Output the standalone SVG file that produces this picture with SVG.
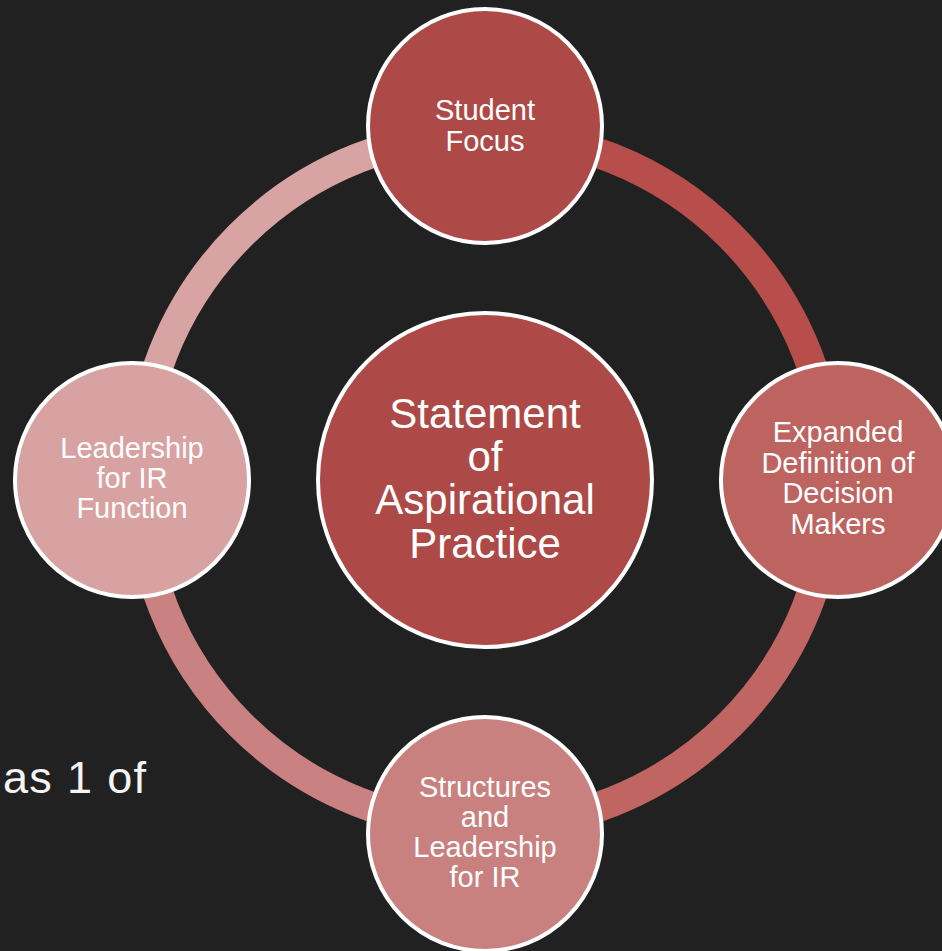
<svg xmlns="http://www.w3.org/2000/svg" width="942" height="951" viewBox="0 0 942 951">
<style>
.bg{fill:#212121}
.arc{fill:none;stroke-width:30}
.node{stroke:#ffffff;stroke-width:4}
.t{font-family:"Liberation Sans",Arial,sans-serif;fill:#ffffff;text-anchor:middle;font-size:29px}
.big{font-size:42px}
.side{font-family:"Liberation Sans",Arial,sans-serif;fill:#f4f4f4;font-size:45px}
</style>
<rect class="bg" x="0" y="0" width="942" height="951"/>
<text class="side" x="3" y="793" textLength="143" lengthAdjust="spacing">as 1 of</text>
<g id="connectors">
<path class="arc" stroke="#b84e4b" d="M485,134 A346,346 0 0 1 831,480"/>
<path class="arc" stroke="#c06562" d="M831,480 A346,346 0 0 1 485,826"/>
<path class="arc" stroke="#c98181" d="M485,826 A346,346 0 0 1 139,480"/>
<path class="arc" stroke="#d8a3a3" d="M139,480 A346,346 0 0 1 485,134"/>
</g>
<g id="center">
<circle class="node" cx="485" cy="480" r="167" fill="#ad4a47"/>
<text class="t big"><tspan x="485" y="428">Statement</tspan><tspan x="485" y="471">of</tspan><tspan x="485" y="514">Aspirational</tspan><tspan x="485" y="558">Practice</tspan></text>
</g>
<g id="student-focus">
<circle class="node" cx="485" cy="126" r="117" fill="#ad4a47"/>
<text class="t"><tspan x="485" y="120">Student</tspan><tspan x="485" y="151">Focus</tspan></text>
</g>
<g id="expanded-definition">
<circle class="node" cx="838" cy="480" r="117" fill="#bd6461"/>
<text class="t"><tspan x="838" y="442">Expanded</tspan><tspan x="838" y="473">Definition of</tspan><tspan x="838" y="503">Decision</tspan><tspan x="838" y="534">Makers</tspan></text>
</g>
<g id="structures-leadership">
<circle class="node" cx="485" cy="834" r="117" fill="#c98180"/>
<text class="t"><tspan x="485" y="797">Structures</tspan><tspan x="485" y="827">and</tspan><tspan x="485" y="857">Leadership</tspan><tspan x="485" y="887">for IR</tspan></text>
</g>
<g id="leadership-ir">
<circle class="node" cx="132" cy="480" r="117" fill="#d8a2a2"/>
<text class="t"><tspan x="132" y="458">Leadership</tspan><tspan x="132" y="488">for IR</tspan><tspan x="132" y="518">Function</tspan></text>
</g>
</svg>
